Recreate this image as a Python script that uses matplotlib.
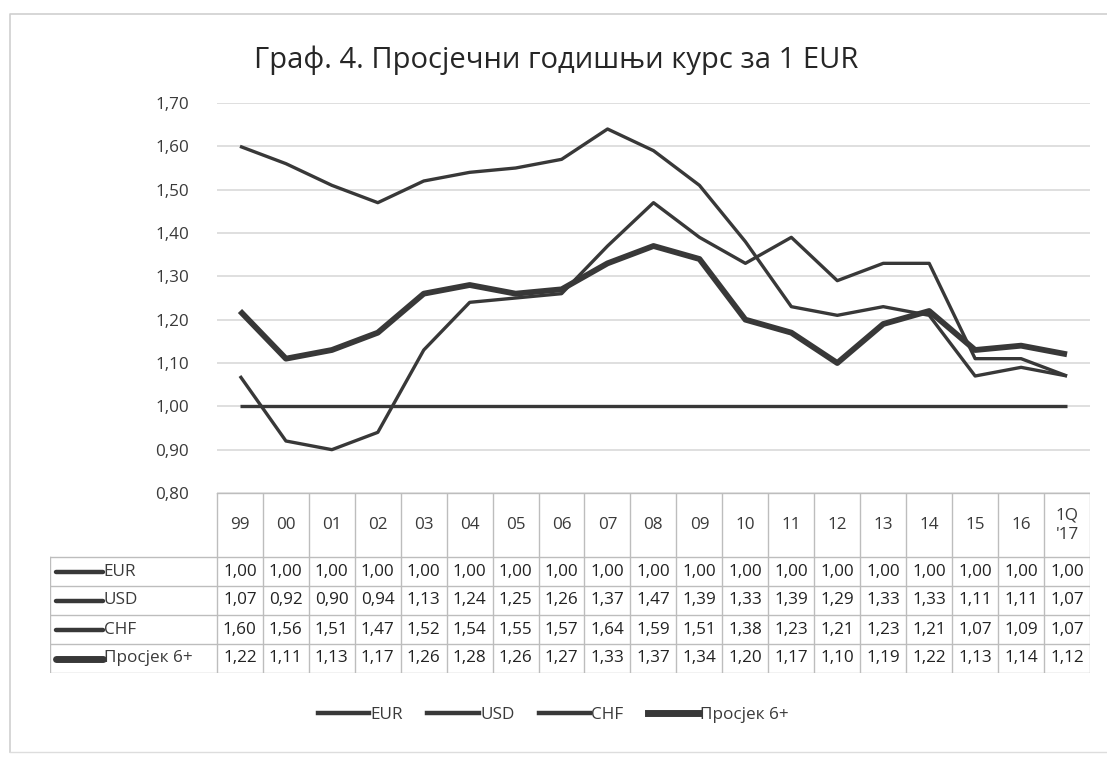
import matplotlib
matplotlib.use("Agg")
import matplotlib.pyplot as plt
from matplotlib.lines import Line2D

plt.rcParams['font.family'] = ['Open Sans', 'DejaVu Sans']

years = ['99', '00', '01', '02', '03', '04', '05', '06', '07', '08', '09',
         '10', '11', '12', '13', '14', '15', '16', "1Q\n'17"]
eur = [1.00] * 19
usd = [1.07, 0.92, 0.90, 0.94, 1.13, 1.24, 1.25, 1.26, 1.37, 1.47, 1.39,
       1.33, 1.39, 1.29, 1.33, 1.33, 1.11, 1.11, 1.07]
chf = [1.60, 1.56, 1.51, 1.47, 1.52, 1.54, 1.55, 1.57, 1.64, 1.59, 1.51,
       1.38, 1.23, 1.21, 1.23, 1.21, 1.07, 1.09, 1.07]
avg6 = [1.22, 1.11, 1.13, 1.17, 1.26, 1.28, 1.26, 1.27, 1.33, 1.37, 1.34,
        1.20, 1.17, 1.10, 1.19, 1.22, 1.13, 1.14, 1.12]
names = ['EUR', 'USD', 'CHF', 'Просјек 6+']
widths = [2.4, 2.4, 2.4, 4.2]
series = [eur, usd, chf, avg6]

LINE = '#383838'
GRID = '#d6d6d6'
TAB = '#bdbdbd'
TXT = '#3a3a3a'
FS = 12.3

def fmt(v):
    return f"{v:.2f}".replace('.', ',')

W, H = 1107, 758
fig = plt.figure(figsize=(W / 100, H / 100), dpi=100)

# outer frame of the scanned chart
frame = fig.add_axes([0, 0, 1, 1])
frame.set_xlim(0, W)
frame.set_ylim(H, 0)
frame.axis('off')
frame.plot([10, 10, W], [752, 14, 14], color='#cfcfcf', lw=1.2)
frame.plot([10, W], [752, 752], color='#dddddd', lw=1.0)

# main line chart
ax = fig.add_axes([217 / W, (H - 493) / H, 873 / W, 390 / H])
x = list(range(len(years)))
for vals, lw in zip(series, widths):
    ax.plot(x, vals, color=LINE, lw=lw, solid_capstyle='butt')
ax.set_xlim(-0.5, len(years) - 0.5)
ax.set_ylim(0.80, 1.70)
ticks = [0.80 + 0.1 * i for i in range(10)]
ax.set_yticks(ticks)
ax.set_yticklabels([fmt(t) for t in ticks], fontsize=FS, color=TXT)
ax.set_xticks([])
ax.grid(axis='y', color=GRID, lw=1.1)
ax.set_axisbelow(True)
for s in ax.spines.values():
    s.set_visible(False)
ax.tick_params(axis='y', length=0, pad=20)

fig.text(0.502, 0.921, 'Граф. 4. Просјечни годишњи курс за 1 EUR',
         ha='center', va='center', fontsize=21, color='#262626')

# data table under the chart
label_w = 167 / 46
head_h = 64 / 29
tab = fig.add_axes([50 / W, (H - 673) / H, 1040 / W, 180 / H])
tab.set_xlim(-0.5 - label_w, len(years) - 0.5)
tab.set_ylim(head_h + len(names), 0)
tab.axis('off')
left = -0.5 - label_w
right = len(years) - 0.5
bottom = head_h + len(names)
# horizontal rules
tab.plot([-0.5, right], [0, 0], color=TAB, lw=1)
for r in range(len(names) + 1):
    tab.plot([left, right], [head_h + r, head_h + r], color=TAB, lw=1)
# vertical rules
tab.plot([left, left], [head_h, bottom], color=TAB, lw=1)
for c in range(len(years) + 1):
    tab.plot([c - 0.5, c - 0.5], [0, bottom], color=TAB, lw=1)
for i, yr in enumerate(years):
    tab.text(i, head_h / 2, yr, ha='center', va='center', fontsize=FS,
             color=TXT, linespacing=1.3)
for r, (nm, vals, lw) in enumerate(zip(names, series, widths)):
    yc = head_h + r + 0.5
    tab.plot([left + 0.12, left + 1.15], [yc, yc], color=LINE, lw=lw + 0.8,
             solid_capstyle='round')
    tab.text(left + 1.17, yc, nm, ha='left', va='center', fontsize=FS,
             color=TXT)
    for i, v in enumerate(vals):
        tab.text(i, yc, fmt(v), ha='center', va='center', fontsize=FS,
                 color='#222222')

handles = [Line2D([0], [0], color=LINE, lw=lw + 0.8) for lw in widths]
fig.legend(handles, names, loc='center', bbox_to_anchor=(0.5, 0.057),
           ncol=4, frameon=False, fontsize=FS, handlelength=3.0,
           handletextpad=0.1, columnspacing=1.4, labelcolor=TXT)

fig.savefig('out.png', dpi=100, facecolor='white')
